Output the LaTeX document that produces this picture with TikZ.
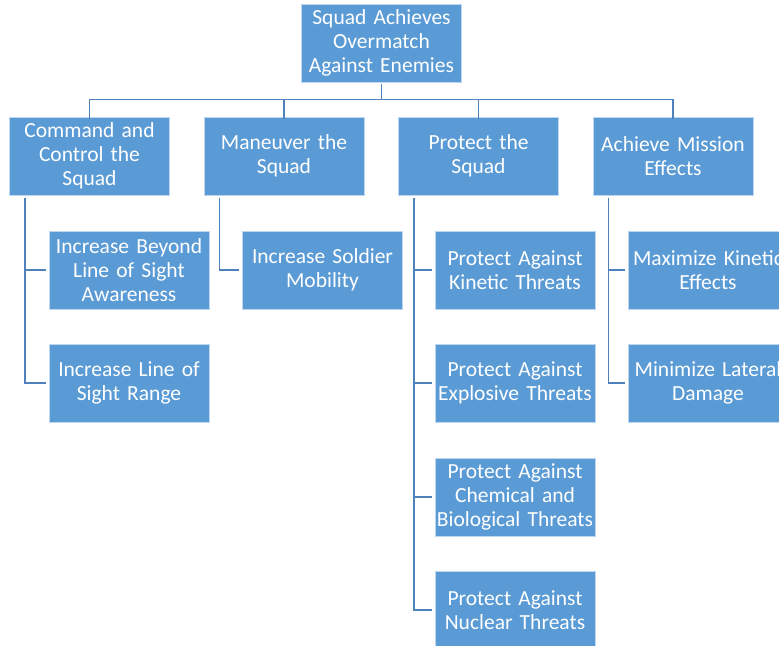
\documentclass[tikz,border=0pt]{standalone}
\usepackage{fontspec}
\setmainfont{Carlito}
\definecolor{boxblue}{HTML}{5B9BD5}
\definecolor{boxedge}{HTML}{BDD7EE}
\definecolor{linkblue}{HTML}{4F81BD}
\begin{document}
\begin{tikzpicture}[x=1bp,y=-1bp,
  box/.style={draw=boxedge,line width=0.8bp,fill=boxblue,text=white,
    minimum width=158bp,minimum height=78bp,inner sep=0pt,
    text width=160bp,align=center,font=\fontsize{21.6}{24}\selectfont},
  link/.style={draw=linkblue,line width=1.6bp}]
\clip (0,0) rectangle (779,646);
\useasboundingbox (0,0) rectangle (779,646);
\node[box] (top) at (381.5,43) {Squad Achieves\\Overmatch\\Against Enemies};
\node[box] (c1) at (89.5,156) {Command and\\Control the\\Squad};
\node[box] (c2) at (284,156) {Maneuver the\\Squad};
\node[box] (c3) at (478.5,156) {Protect the\\Squad};
\node[box] (c4) at (673,156) {Achieve Mission\\Effects};
\node[box] (a1) at (129,270) {Increase Beyond\\Line of Sight\\Awareness};
\node[box] (a2) at (129,383) {Increase Line of\\Sight Range};
\node[box] (b1) at (322.5,270) {Increase Soldier\\Mobility};
\node[box] (p1) at (515,270) {Protect Against\\Kinetic Threats};
\node[box] (p2) at (515,383) {Protect Against\\Explosive Threats};
\node[box] (p3) at (515,497) {Protect Against\\Chemical and\\Biological Threats};
\node[box] (p4) at (515,610) {Protect Against\\Nuclear Threats};
\node[box] (m1) at (708,270) {Maximize Kinetic\\Effects};
\node[box] (m2) at (708,383) {Minimize Lateral\\Damage};
\foreach \c in {c1,c2,c3,c4}
  \draw[link] ([yshift=-2bp]top.south) -- ++(0,15) -| ([yshift=-2bp]\c.north);
\foreach \c/\k in {c1/a1,c1/a2,c2/b1,c3/p1,c3/p2,c3/p3,c3/p4,c4/m1,c4/m2}
  \draw[link] ([xshift=16bp,yshift=-3bp]\c.south west) |- ([xshift=-3bp]\k.west);
\end{tikzpicture}
\end{document}
